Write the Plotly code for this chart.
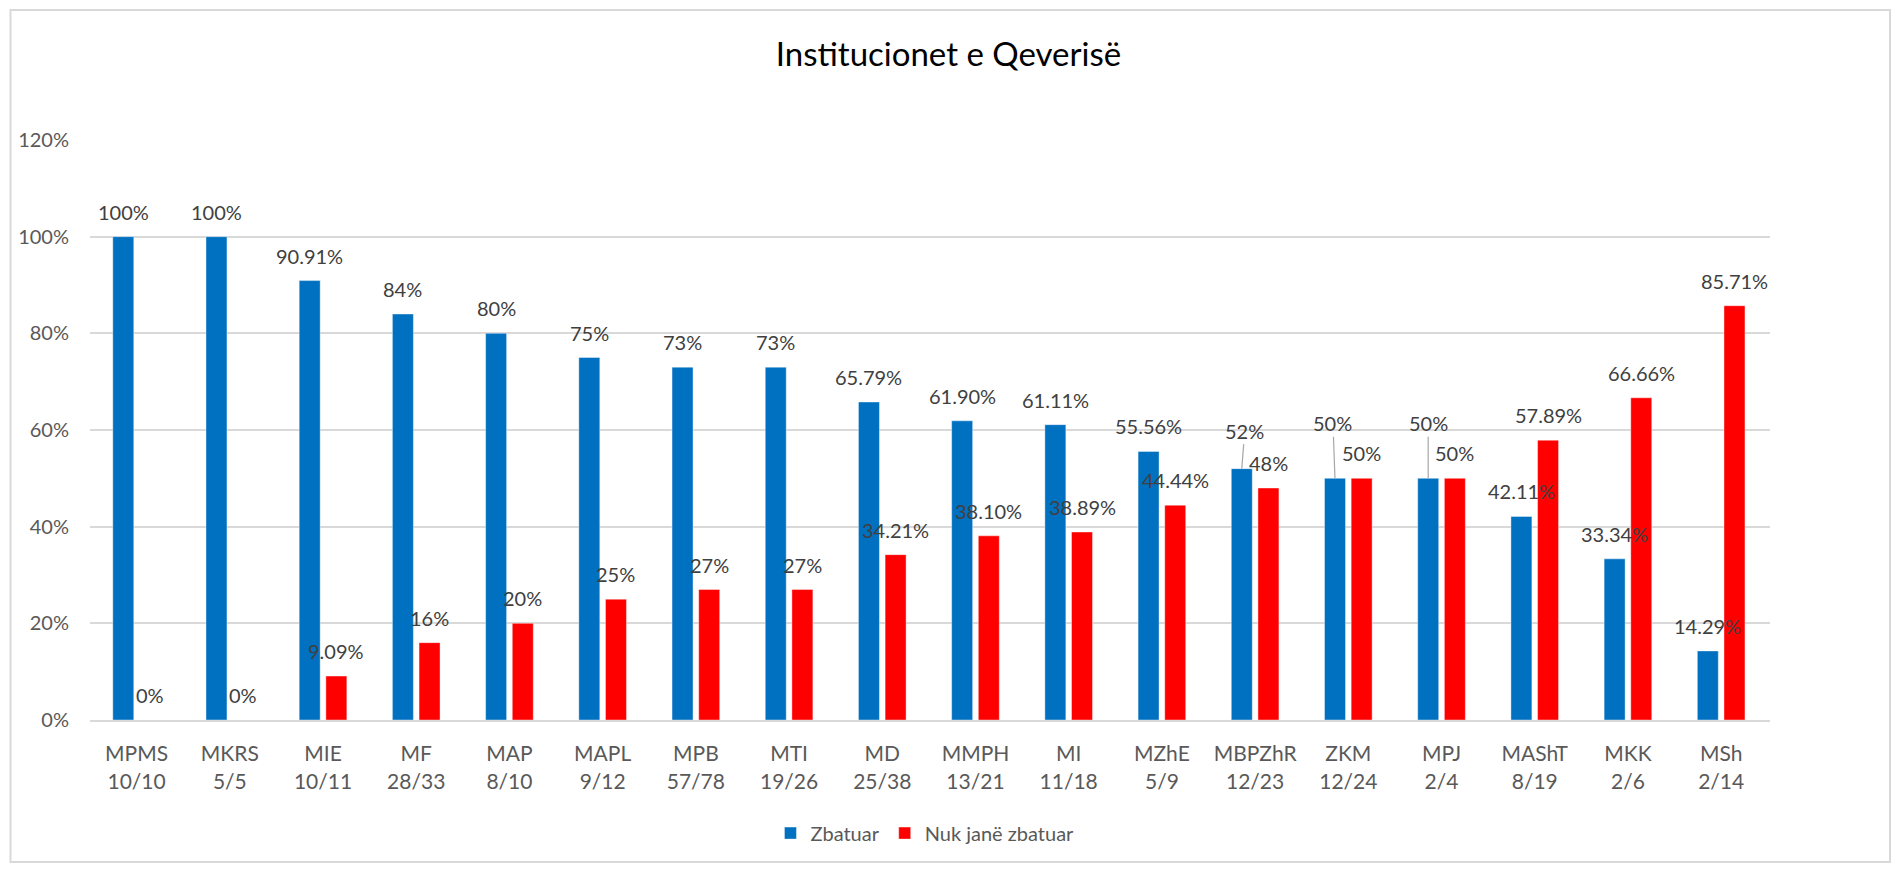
import plotly.graph_objects as go

# ---- data ----
institutions = ["MPMS", "MKRS", "MIE", "MF", "MAP", "MAPL", "MPB", "MTI", "MD",
                "MMPH", "MI", "MZhE", "MBPZhR", "ZKM", "MPJ", "MAShT", "MKK", "MSh"]
counts = ["10/10", "5/5", "10/11", "28/33", "8/10", "9/12", "57/78", "19/26", "25/38",
          "13/21", "11/18", "5/9", "12/23", "12/24", "2/4", "8/19", "2/6", "2/14"]
zbatuar = [1.00, 1.00, 0.9091, 0.84, 0.80, 0.75, 0.73, 0.73, 0.6579,
           0.6190, 0.6111, 0.5556, 0.52, 0.50, 0.50, 0.4211, 0.3334, 0.1429]
nuk_zbatuar = [0.00, 0.00, 0.0909, 0.16, 0.20, 0.25, 0.27, 0.27, 0.3421,
               0.3810, 0.3889, 0.4444, 0.48, 0.50, 0.50, 0.5789, 0.6666, 0.8571]
zbatuar_labels = ["100%", "100%", "90.91%", "84%", "80%", "75%", "73%", "73%", "65.79%",
                  "61.90%", "61.11%", "55.56%", "52%", "50%", "50%", "42.11%", "33.34%", "14.29%"]
nuk_labels = ["0%", "0%", "9.09%", "16%", "20%", "25%", "27%", "27%", "34.21%",
              "38.10%", "38.89%", "44.44%", "48%", "50%", "50%", "57.89%", "66.66%", "85.71%"]
y_ticks = [0, 0.2, 0.4, 0.6, 0.8, 1.0, 1.2]
y_tick_text = ["0%", "20%", "40%", "60%", "80%", "100%", "120%"]
series_names = ["Zbatuar", "Nuk janë zbatuar"]
title_text = "Institucionet e Qeverisë"

# labels moved away from the bar with a leader line: index -> (dx, dy) in px
leader_labels = {12: (3, -38), 13: (-2, -55), 14: (0, -55)}

BLUE = "#0070C0"
RED = "#FF0000"
FONT = "Lato"
LABEL_COLOR = "#404040"
AXIS_COLOR = "#595959"
GRID = "#D9D9D9"

x_labels = [f"{a}<br>{b}" for a, b in zip(institutions, counts)]

fig = go.Figure()
fig.add_trace(go.Bar(x=x_labels, y=zbatuar, name=series_names[0],
                     marker=dict(color=BLUE, line=dict(color="rgba(255,255,255,0.5)", width=0.8))))
fig.add_trace(go.Bar(x=x_labels, y=nuk_zbatuar, name=series_names[1],
                     marker=dict(color=RED, line=dict(color="rgba(255,255,255,0.5)", width=0.8))))

W, H = 1897, 869
ML, MR, MT, MB = 90, 127, 140, 149
plot_w = W - ML - MR
plot_h = H - MT - MB
slot = plot_w / len(institutions)
bargap = 0.428
half = slot * (1 - bargap) / 2
offset = half / 2

annotations = []
label_font = dict(family=FONT, size=20, color=LABEL_COLOR)
for i, x in enumerate(x_labels):
    if i in leader_labels:
        dx, dy = leader_labels[i]
        annotations.append(dict(x=x, y=zbatuar[i], xref="x", yref="y", text=zbatuar_labels[i],
                                xshift=-offset, showarrow=True, arrowhead=0, arrowwidth=1.2,
                                arrowcolor="#A6A6A6", ax=dx, ay=dy, standoff=0,
                                font=label_font))
    else:
        annotations.append(dict(x=x, y=zbatuar[i], xref="x", yref="y", text=zbatuar_labels[i],
                                xshift=-offset, yshift=25, showarrow=False,
                                yanchor="middle", font=label_font))
    annotations.append(dict(x=x, y=nuk_zbatuar[i], xref="x", yref="y", text=nuk_labels[i],
                            xshift=offset, yshift=25, showarrow=False,
                            yanchor="middle", font=label_font))

# outer chart frame (in paper coordinates)
fx0 = (10.5 - ML) / plot_w
fx1 = (1890 - ML) / plot_w
fy0 = ((H - MB) - 862) / plot_h
fy1 = ((H - MB) - 10) / plot_h

fig.update_layout(
    width=W, height=H,
    margin=dict(l=ML, r=MR, t=MT, b=MB, pad=0),
    paper_bgcolor="white", plot_bgcolor="white",
    barmode="group", bargap=bargap, bargroupgap=0.213,
    title=dict(text=title_text, x=0.5, xref="container", xanchor="center",
               y=1 - 54 / H, yref="container", yanchor="middle",
               font=dict(family=FONT, size=33, color="#000000")),
    font=dict(family=FONT, color=AXIS_COLOR),
    showlegend=True,
    legend=dict(orientation="h", x=0.497, xanchor="center", y=-0.195, yanchor="middle",
                font=dict(family=FONT, size=20, color=AXIS_COLOR), itemwidth=30,
                traceorder="normal"),
    annotations=annotations,
    shapes=[dict(type="rect", xref="paper", yref="paper", x0=fx0, x1=fx1, y0=fy0, y1=fy1,
                 line=dict(color=GRID, width=2), fillcolor="rgba(0,0,0,0)", layer="below")],
)
fig.update_xaxes(showgrid=False, showline=True, linecolor=GRID, linewidth=2,
                 ticks="", tickfont=dict(family=FONT, size=21, color=AXIS_COLOR),
                 ticklabelstandoff=14)
fig.update_yaxes(range=[0, 1.2], tickvals=y_ticks, ticktext=y_tick_text,
                 showgrid=True, gridcolor=GRID, gridwidth=1.5, zeroline=False,
                 showline=False, ticks="", ticklabelstandoff=20,
                 tickfont=dict(family=FONT, size=20, color=AXIS_COLOR))

fig.write_html("out.html", config={"displayModeBar": False},
               post_script="document.body.style.margin='0';document.body.style.overflow='hidden';")
